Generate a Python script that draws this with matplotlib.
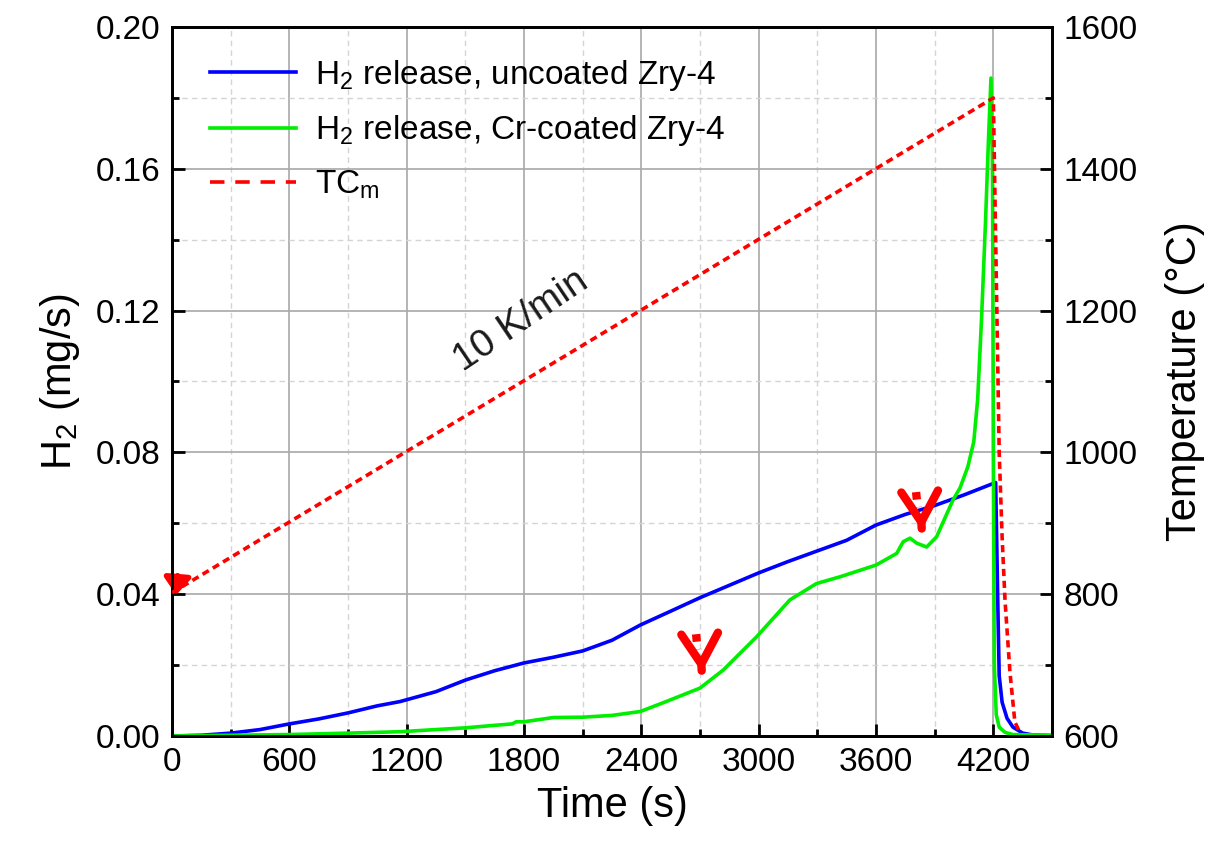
import matplotlib
matplotlib.use("Agg")
import matplotlib.pyplot as plt
from matplotlib.ticker import MultipleLocator
from matplotlib.lines import Line2D

plt.rcParams['font.family'] = ['Liberation Sans', 'DejaVu Sans']
plt.rcParams['mathtext.fontset'] = 'custom'
plt.rcParams['mathtext.rm'] = 'Liberation Sans'
plt.rcParams['mathtext.it'] = 'Liberation Sans:italic'

# ---- data ----
t_uncoated = [0, 150, 300, 450, 600, 750, 900, 1050, 1166, 1350, 1502, 1650, 1800,
              1950, 2101, 2250, 2395, 2550, 2700, 2850, 3000, 3150, 3300, 3450,
              3600, 3750, 3900, 4050, 4212, 4222, 4230, 4245, 4270, 4300,
              4350, 4400, 4500]
h2_uncoated = [0.0, 0.0002, 0.0008, 0.0018, 0.0034, 0.0048, 0.0065, 0.0085, 0.0097,
               0.0125, 0.0158, 0.0184, 0.0206, 0.0222, 0.0240, 0.0270, 0.0313,
               0.0352, 0.0390, 0.0425, 0.0460, 0.0492, 0.0522, 0.0552, 0.0595,
               0.0625, 0.0650, 0.0680, 0.0715, 0.0400, 0.0170, 0.0095,
               0.0050, 0.0025, 0.0008, 0.0003, 0.0001]

t_coated = [0, 300, 600, 900, 1166, 1502, 1650, 1740, 1760, 1800, 1950, 2101, 2250,
            2395, 2527, 2700, 2819, 2990, 3160, 3296, 3416, 3600, 3706, 3739, 3774,
            3808, 3859, 3910, 3994, 4030, 4070, 4100, 4120, 4140, 4160, 4175, 4188,
            4196, 4200, 4205, 4215, 4230, 4260, 4300, 4500]
h2_coated = [0.0, 0.0002, 0.0004, 0.0008, 0.0012, 0.0023, 0.0030, 0.0034, 0.0040,
             0.0040, 0.0052, 0.0053, 0.0058, 0.0069, 0.0097, 0.0135, 0.0186, 0.0280,
             0.0384, 0.0430, 0.0449, 0.0482, 0.0515, 0.0548, 0.0558, 0.0544, 0.0533,
             0.0562, 0.0666, 0.0700, 0.0760, 0.0830, 0.0950, 0.1180, 0.1450, 0.1680,
             0.1856, 0.1600, 0.0800, 0.0200, 0.0060, 0.0025, 0.0010, 0.0004, 0.0002]

t_temp = [0, 4200, 4215, 4230, 4245, 4260, 4285, 4310, 4330]
temp_tc = [802, 1500, 1250, 1000, 880, 790, 690, 620, 608]

x_ticks = [0, 600, 1200, 1800, 2400, 3000, 3600, 4200]
y_left_ticks = [0.00, 0.04, 0.08, 0.12, 0.16, 0.20]
y_right_ticks = [600, 800, 1000, 1200, 1400, 1600]

labels = ['H$_2$ release, uncoated Zry-4', 'H$_2$ release, Cr-coated Zry-4', 'TC$_\\mathrm{m}$']

# arrows (tip positions, data coords)
arrow_tips = [(2710, 0.0172), (3835, 0.0573)]

# ---- figure ----
fig = plt.figure(figsize=(12.11, 8.63), dpi=100)
ax = fig.add_axes([0.142, 0.1472, 0.7267, 0.8215])
ax2 = ax.twinx()

ax.plot(t_uncoated, h2_uncoated, color='#0000ff', lw=2.6, zorder=3)
ax.plot(t_coated, h2_coated, color='#00ee00', lw=2.6, zorder=3)
ax2.plot(t_temp, temp_tc, color='#ff0000', lw=2.6, ls=(0, (2, 1.3)), zorder=3)

ax.set_xlim(0, 4500)
ax.set_ylim(0, 0.20)
ax2.set_ylim(600, 1600)
ax.set_xticks(x_ticks)
ax.set_yticks(y_left_ticks)
ax2.set_yticks(y_right_ticks)
ax.set_yticklabels([f'{v:.2f}' for v in y_left_ticks])
ax.xaxis.set_minor_locator(MultipleLocator(300))
ax.yaxis.set_minor_locator(MultipleLocator(0.02))
ax2.yaxis.set_minor_locator(MultipleLocator(100))

ax.grid(which='major', color='#a8a8a8', lw=1.2, ls='-')
ax.grid(which='minor', color='#d4d4d4', lw=1.0, ls=(0, (4, 3)))
ax.set_axisbelow(True)

for a in (ax, ax2):
    for s in a.spines.values():
        s.set_linewidth(2)
ax.tick_params(axis='both', which='major', direction='in', length=9, width=2,
               labelsize=24, pad=8, top=False, right=False)
ax.tick_params(axis='both', which='minor', direction='in', length=5, width=2,
               top=False, right=False)
ax2.tick_params(axis='y', which='major', direction='in', length=9, width=2,
                labelsize=24, pad=8)
ax2.tick_params(axis='y', which='minor', direction='in', length=5, width=2)

ax.set_xlabel('Time (s)', fontsize=30, labelpad=6)
ax.set_ylabel('H$_2$ (mg/s)', fontsize=30, labelpad=10)
ax2.set_ylabel('Temperature (°C)', fontsize=30, labelpad=20)

ax.text(1785, 0.117, '10 K/min', fontsize=28, rotation=34, color='#1a1a1a',
        ha='center', va='center')

# red annotation arrows
for (tx, ty) in arrow_tips:
    ax.plot([tx - 30, tx - 22], [ty + 0.0115, ty + 0.0072], color='red', lw=6,
            ls=(0, (0.9, 0.9)), zorder=5, solid_capstyle='butt')
    ax.annotate('', xy=(tx, ty), xytext=(tx - 2, ty + 0.002),
                arrowprops=dict(arrowstyle='->,head_length=1.0,head_width=0.6',
                                color='red', lw=6, mutation_scale=22), zorder=5)
ax.annotate('', xy=(20, 0.039), xytext=(30, 0.046),
            arrowprops=dict(arrowstyle='-|>,head_length=0.5,head_width=0.4',
                            color='red', lw=4, mutation_scale=20), zorder=5)

handles = [Line2D([], [], color='#0000ff', lw=2.6),
           Line2D([], [], color='#00ee00', lw=2.6),
           Line2D([], [], color='#ff0000', lw=2.6, ls=(0, (4, 3)))]
ax2.legend(handles, labels, loc='upper left', frameon=False, fontsize=24,
           handlelength=2.6, handletextpad=0.55, labelspacing=0.62,
           bbox_to_anchor=(0.02, 0.985), borderaxespad=0.2)

fig.savefig('out.png', dpi=100)
